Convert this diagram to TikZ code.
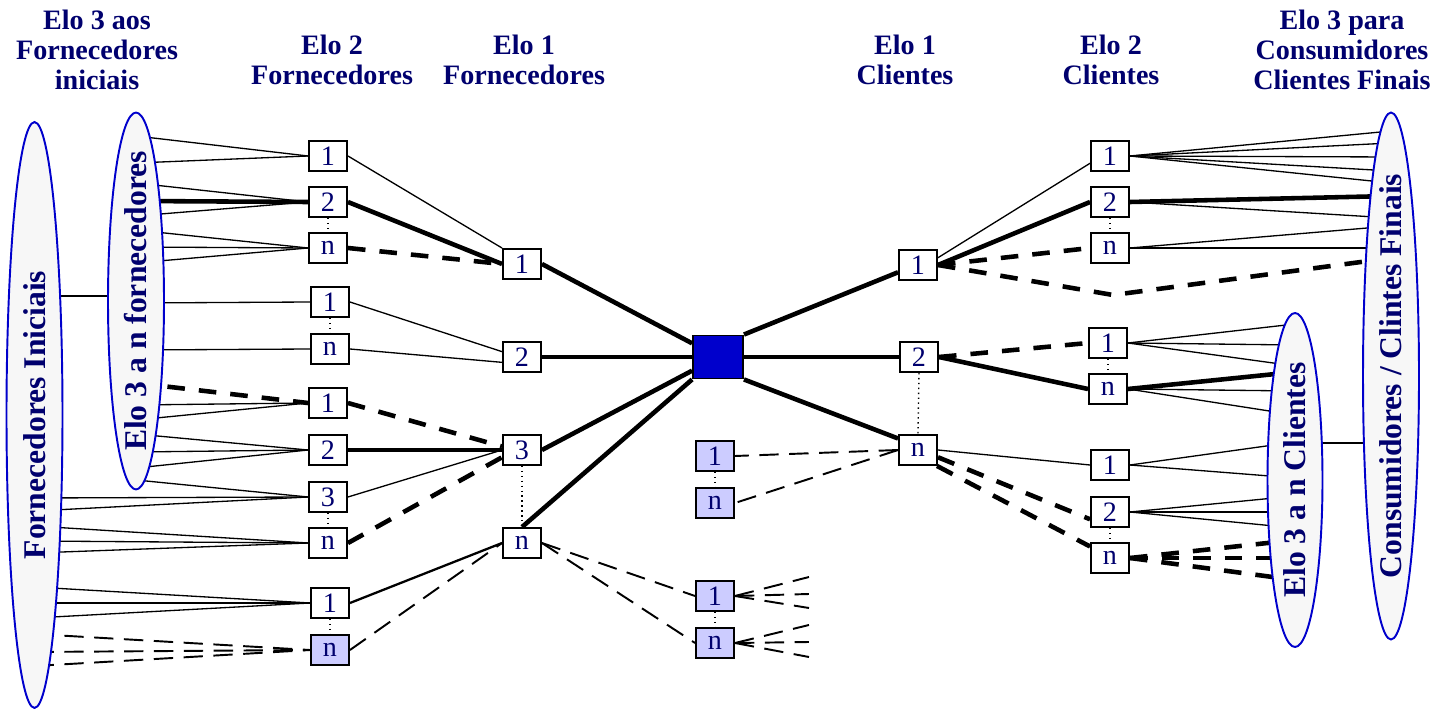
\documentclass[tikz,border=0pt]{standalone}
\usepackage{fontspec}
\setmainfont{Liberation Serif}
\usetikzlibrary{shapes.geometric,backgrounds}
\definecolor{navy}{RGB}{0,0,110}
\definecolor{ovalblue}{RGB}{0,0,204}
\definecolor{ovalgrey}{RGB}{247,247,247}
\definecolor{hubblue}{RGB}{0,0,204}
\definecolor{lilac}{RGB}{204,204,255}

\begin{document}
\begin{tikzpicture}[x=0.02cm, y=-0.02cm,
		box/.style={draw, line width=1.1pt, fill=white, minimum width=0.76cm, minimum height=0.6cm, inner sep=0pt, text=navy, font=\fontsize{16}{16}\selectfont},
		sbox/.style={box, fill=lilac},
		hub/.style={draw, line width=1.1pt, fill=hubblue, minimum width=1cm, minimum height=0.86cm},
		oval/.style={ellipse, draw=ovalblue, line width=1.1pt, fill=ovalgrey, inner sep=0pt},
		ovaltext/.style={rotate=90, text=navy, font=\bfseries\fontsize{18}{18}\selectfont},
		head/.style={align=center, text=navy, font=\bfseries\fontsize{16}{17}\selectfont},
		fine/.style={line width=0.75pt},
		heavy/.style={line width=2.6pt},
		dsh/.style={line width=1.1pt, dash pattern=on 11pt off 6pt},
		hdsh/.style={line width=2.6pt, dash pattern=on 10pt off 8pt},
		dots/.style={line width=0.8pt, dotted}]
		\useasboundingbox (0,0) rectangle (1437,709);
		\node[head] (tF3) at (97,50) {Elo 3 aos\\Fornecedores\\iniciais};
		\node[head] (tF2) at (332,60) {Elo 2\\Fornecedores};
		\node[head] (tF1) at (524,60) {Elo 1\\Fornecedores};
		\node[head] (tC1) at (905,60) {Elo 1\\Clientes};
		\node[head] (tC2) at (1111,60) {Elo 2\\Clientes};
		\node[head] (tC3) at (1342,50) {Elo 3 para\\Consumidores\\Clientes Finais};
		\node[oval, minimum width=1.12cm, minimum height=11.72cm] (Fi) at (34.5,415) {};
		\node[ovaltext] (FiT) at (Fi) {Fornecedores Iniciais};
		\node[oval, minimum width=1.12cm, minimum height=7.54cm] (E3f) at (136,301) {};
		\node[ovaltext] (E3fT) at (E3f) {Elo 3 a n fornecedores};
		\node[oval, minimum width=1.1cm, minimum height=6.68cm] (E3c) at (1295,480) {};
		\node[ovaltext] (E3cT) at (E3c) {Elo 3 a n Clientes};
		\node[oval, minimum width=1.12cm, minimum height=10.54cm] (Cons) at (1391,376) {};
		\node[ovaltext] (ConsT) at (Cons) {Consumidores / Clintes Finais};
		\node[box] (A1) at (328,156) {1};
		\node[box] (A2) at (328,202) {2};
		\node[box] (An) at (328,248) {n};
		\node[box] (B1) at (330,302) {1};
		\node[box] (Bn) at (330,349) {n};
		\node[box] (C1) at (328,403) {1};
		\node[box] (C2) at (328,450) {2};
		\node[box] (C3) at (328,497) {3};
		\node[box] (Cn) at (328,543) {n};
		\node[box] (D1) at (330,603) {1};
		\node[sbox] (Dn) at (330,650) {n};
		\node[box] (F1) at (522,264) {1};
		\node[box] (F2) at (522,357) {2};
		\node[box] (F3) at (522,450) {3};
		\node[box] (Fn) at (522,543) {n};
		\node[hub] (hub) at (718,357) {};
		\node[sbox] (G1) at (715,456) {1};
		\node[sbox] (Gn) at (715,503) {n};
		\node[sbox] (H1) at (715,596) {1};
		\node[sbox] (Hn) at (715,643) {n};
		\node[box] (K1) at (918,265) {1};
		\node[box] (K2) at (919,357) {2};
		\node[box] (Kn) at (918,450) {n};
		\node[box] (L1) at (1110,156) {1};
		\node[box] (L2) at (1110,202) {2};
		\node[box] (Ln) at (1110,248) {n};
		\node[box] (M1) at (1108,343) {1};
		\node[box] (Mn) at (1108,389) {n};
		\node[box] (N1) at (1110,465) {1};
		\node[box] (N2) at (1110,512) {2};
		\node[box] (Nn) at (1110,558) {n};
		\coordinate (bend) at (1113,295);
		\foreach \a/\b in {A2/An, B1/Bn, C3/Cn, D1/Dn, F3/Fn, G1/Gn, H1/Hn, K2/Kn, L2/Ln, M1/Mn, N2/Nn}
			\draw[dots] (\a.south) -- (\b.north);
		\begin{scope}[on background layer]
			\draw[fine] (Fi.center |- 0,296) -- (E3f.center |- 0,296);
			\draw[fine] (E3c.center |- 0,443) -- (Cons.center |- 0,443);
			\foreach \y in {136,163} \draw[fine] (E3f.center |- 0,\y) -- (A1.west);
			\foreach \y in {183,216} \draw[fine] (E3f.center |- 0,\y) -- (A2.west);
			\draw[heavy] (E3f.center |- 0,201) -- (A2.west);
			\foreach \y in {230,247,263} \draw[fine] (E3f.center |- 0,\y) -- (An.west);
			\draw[fine] (E3f.center |- 0,303) -- (B1.west);
			\draw[fine] (E3f.center |- 0,350) -- (Bn.west);
			\draw[hdsh] (E3f.center |- 0,383) -- (C1.west);
			\foreach \y in {405,420} \draw[fine] (E3f.center |- 0,\y) -- (C1.west);
			\foreach \y in {434,452,468} \draw[fine] (E3f.center |- 0,\y) -- (C2.west);
			\draw[fine] (E3f.center |- 0,480) -- (C3.west);
			\foreach \y in {498,511} \draw[fine] (Fi.center |- 0,\y) -- (C3.west);
			\foreach \y in {526,541,553} \draw[fine] (Fi.center |- 0,\y) -- (Cn.west);
			\foreach \y in {587,603,618} \draw[fine] (Fi.center |- 0,\y) -- (D1.west);
			\foreach \y in {634,652,666} \draw[dsh] (Fi.center |- 0,\y) -- (Dn.west);
			\draw[fine] (A1.east) -- (F1.north west);
			\draw[heavy] (A2.east) -- (F1.west);
			\draw[hdsh] (An.east) -- (F1.west);
			\draw[fine] (B1.east) -- (F2.165);
			\draw[fine] (Bn.east) -- (F2.195);
			\draw[hdsh] (C1.east) -- (F3.170);
			\draw[heavy] (C2.east) -- (F3.west);
			\draw[fine] (C3.east) -- (F3.west);
			\draw[hdsh] (Cn.east) -- (F3.200);
			\draw[line width=1.3pt] (D1.east) -- (Fn.west);
			\draw[dsh] (Dn.east) -- (Fn.west);
			\foreach \b in {F1,F2,F3} \draw[heavy] (\b.east) -- (hub);
			\draw[heavy] (Fn.north) -- (hub);
			\draw[heavy] (hub.north east) -- (K1.200);
			\draw[heavy] (hub.east) -- (K2.west);
			\draw[heavy] (hub.south east) -- (Kn.150);
			\draw[dsh] (Kn.west) -- (G1.east);
			\draw[dsh] (Kn.west) -- (Gn.east);
			\draw[dsh] (Fn.east) -- (H1.west);
			\draw[dsh] (Fn.east) -- (Hn.west);
			\foreach \dy in {-19,-2,12} \draw[dsh] (H1.east) -- ++(74,\dy);
			\foreach \dy in {-18,-1,14} \draw[dsh] (Hn.east) -- ++(74,\dy);
			\draw[fine] (K1.20) -- (L1.200);
			\draw[heavy] (K1.east) -- (L2.west);
			\draw[hdsh] (K1.east) -- (Ln.west);
			\draw[hdsh] (K1.east) -- (bend) -- (Cons.center |- 0,258);
			\draw[hdsh] (K2.east) -- (M1.west);
			\draw[heavy] (K2.east) -- (Mn.west);
			\draw[fine] (Kn.east) -- (N1.west);
			\draw[hdsh] (Kn.-20) -- (N2.200);
			\draw[hdsh] (Kn.-40) -- (Nn.150);
			\foreach \y in {131,143,157,171,183} \draw[fine] (L1.east) -- (Cons.center |- 0,\y);
			\draw[heavy] (L2.east) -- (Cons.center |- 0,196);
			\draw[fine] (L2.east) -- (Cons.center |- 0,218);
			\foreach \y in {226,248} \draw[fine] (Ln.east) -- (Cons.center |- 0,\y);
			\foreach \y in {324,345,366} \draw[fine] (M1.east) -- (E3c.center |- 0,\y);
			\draw[heavy] (Mn.east) -- (E3c.center |- 0,372);
			\foreach \y in {391,415} \draw[fine] (Mn.east) -- (E3c.center |- 0,\y);
			\foreach \y in {442,478} \draw[fine] (N1.east) -- (E3c.center |- 0,\y);
			\foreach \y in {496,512,528} \draw[fine] (N2.east) -- (E3c.center |- 0,\y);
			\foreach \y in {540,558,580} \draw[hdsh] (Nn.east) -- (E3c.center |- 0,\y);
		\end{scope}
	\end{tikzpicture}
\end{document}
